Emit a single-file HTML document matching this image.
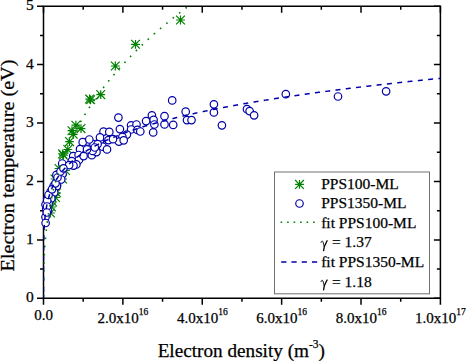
<!DOCTYPE html><html><head><meta charset="utf-8"><style>html,body{margin:0;padding:0;background:#fff;}svg{display:block;}text{font-family:"Liberation Serif",serif;fill:#000;stroke:#000;stroke-width:0.25px;}</style></head><body>
<svg width="466" height="361" viewBox="0 0 466 361">
<defs><clipPath id="pc"><rect x="43.50" y="6.20" width="396.90" height="292.10"/></clipPath></defs>
<g stroke="#000" stroke-width="1.5" fill="none">
<path d="M43.5,6.2H440.4V298.3H43.5Z"/>
<path d="M43.50,298.3v6.5M43.50,6.2v6.5M83.19,298.3v3.5M83.19,6.2v3.5M122.88,298.3v6.5M122.88,6.2v6.5M162.57,298.3v3.5M162.57,6.2v3.5M202.26,298.3v6.5M202.26,6.2v6.5M241.95,298.3v3.5M241.95,6.2v3.5M281.64,298.3v6.5M281.64,6.2v6.5M321.33,298.3v3.5M321.33,6.2v3.5M361.02,298.3v6.5M361.02,6.2v6.5M400.71,298.3v3.5M400.71,6.2v3.5M440.40,298.3v6.5M440.40,6.2v6.5M43.5,298.30h-6.5M440.4,298.30h-6.5M43.5,269.09h-3.5M440.4,269.09h-3.5M43.5,239.88h-6.5M440.4,239.88h-6.5M43.5,210.67h-3.5M440.4,210.67h-3.5M43.5,181.46h-6.5M440.4,181.46h-6.5M43.5,152.25h-3.5M440.4,152.25h-3.5M43.5,123.04h-6.5M440.4,123.04h-6.5M43.5,93.83h-3.5M440.4,93.83h-3.5M43.5,64.62h-6.5M440.4,64.62h-6.5M43.5,35.41h-3.5M440.4,35.41h-3.5M43.5,6.20h-6.5M440.4,6.20h-6.5"/>
</g>
<text x="33.7" y="302.30" font-size="15.5" text-anchor="end">0</text>
<text x="33.7" y="243.88" font-size="15.5" text-anchor="end">1</text>
<text x="33.7" y="185.46" font-size="15.5" text-anchor="end">2</text>
<text x="33.7" y="127.04" font-size="15.5" text-anchor="end">3</text>
<text x="33.7" y="68.62" font-size="15.5" text-anchor="end">4</text>
<text x="33.7" y="10.20" font-size="15.5" text-anchor="end">5</text>
<text x="43.5" y="320.3" font-size="15" text-anchor="middle">0.0</text>
<text x="122.88" y="322.5" font-size="15" text-anchor="middle">2.0x10<tspan font-size="9.5" dy="-7.8">16</tspan></text>
<text x="202.26" y="322.5" font-size="15" text-anchor="middle">4.0x10<tspan font-size="9.5" dy="-7.8">16</tspan></text>
<text x="281.64" y="322.5" font-size="15" text-anchor="middle">6.0x10<tspan font-size="9.5" dy="-7.8">16</tspan></text>
<text x="361.02" y="322.5" font-size="15" text-anchor="middle">8.0x10<tspan font-size="9.5" dy="-7.8">16</tspan></text>
<text x="440.40" y="322.5" font-size="15" text-anchor="middle">1.0x10<tspan font-size="9.5" dy="-7.8">17</tspan></text>
<text x="241.3" y="357.1" font-size="19.2" text-anchor="middle">Electron density (m<tspan font-size="11.5" dy="-9.6">-3</tspan><tspan dy="9.6">)</tspan></text>
<text transform="translate(14.0,165.5) rotate(-90) scale(1.063,1)" x="0" y="0" font-size="19" text-anchor="middle">Electron temperature (eV)</text>
<g stroke="#008000" stroke-width="1.2" fill="none"><path d="M180.50,15.60V24.40M176.10,20.00H184.90M176.10,15.60L184.90,24.40M176.10,24.40L184.90,15.60"/><path d="M135.50,39.90V48.70M131.10,44.30H139.90M131.10,39.90L139.90,48.70M131.10,48.70L139.90,39.90"/><path d="M115.30,61.60V70.40M110.90,66.00H119.70M110.90,61.60L119.70,70.40M110.90,70.40L119.70,61.60"/><path d="M100.70,90.20V99.00M96.30,94.60H105.10M96.30,90.20L105.10,99.00M96.30,99.00L105.10,90.20"/><path d="M89.60,94.60V103.40M85.20,99.00H94.00M85.20,94.60L94.00,103.40M85.20,103.40L94.00,94.60"/><path d="M90.60,95.40V104.20M86.20,99.80H95.00M86.20,95.40L95.00,104.20M86.20,104.20L95.00,95.40"/><path d="M75.90,120.80V129.60M71.50,125.20H80.30M71.50,120.80L80.30,129.60M71.50,129.60L80.30,120.80"/><path d="M81.00,124.20V133.00M76.60,128.60H85.40M76.60,124.20L85.40,133.00M76.60,133.00L85.40,124.20"/><path d="M72.00,126.30V135.10M67.60,130.70H76.40M67.60,126.30L76.40,135.10M67.60,135.10L76.40,126.30"/><path d="M73.20,129.90V138.70M68.80,134.30H77.60M68.80,129.90L77.60,138.70M68.80,138.70L77.60,129.90"/><path d="M69.50,137.20V146.00M65.10,141.60H73.90M65.10,137.20L73.90,146.00M65.10,146.00L73.90,137.20"/><path d="M67.80,145.10V153.90M63.40,149.50H72.20M63.40,145.10L72.20,153.90M63.40,153.90L72.20,145.10"/><path d="M62.60,149.50V158.30M58.20,153.90H67.00M58.20,149.50L67.00,158.30M58.20,158.30L67.00,149.50"/><path d="M63.40,150.80V159.60M59.00,155.20H67.80M59.00,150.80L67.80,159.60M59.00,159.60L67.80,150.80"/><path d="M59.00,164.10V172.90M54.60,168.50H63.40M54.60,164.10L63.40,172.90M54.60,172.90L63.40,164.10"/><path d="M55.00,174.60V183.40M50.60,179.00H59.40M50.60,174.60L59.40,183.40M50.60,183.40L59.40,174.60"/><path d="M62.50,174.60V183.40M58.10,179.00H66.90M58.10,174.60L66.90,183.40M58.10,183.40L66.90,174.60"/><path d="M65.50,166.10V174.90M61.10,170.50H69.90M61.10,166.10L69.90,174.90M61.10,174.90L69.90,166.10"/><path d="M57.00,176.60V185.40M52.60,181.00H61.40M52.60,176.60L61.40,185.40M52.60,185.40L61.40,176.60"/><path d="M56.50,188.40V197.20M52.10,192.80H60.90M52.10,188.40L60.90,197.20M52.10,197.20L60.90,188.40"/><path d="M55.50,193.10V201.90M51.10,197.50H59.90M51.10,193.10L59.90,201.90M51.10,201.90L59.90,193.10"/><path d="M51.50,202.60V211.40M47.10,207.00H55.90M47.10,202.60L55.90,211.40M47.10,211.40L55.90,202.60"/><path d="M50.50,208.60V217.40M46.10,213.00H54.90M46.10,208.60L54.90,217.40M46.10,217.40L54.90,208.60"/><path d="M52.50,197.60V206.40M48.10,202.00H56.90M48.10,197.60L56.90,206.40M48.10,206.40L56.90,197.60"/></g>
<path d="M95,99.3 Q97.5,99.2 98.6,97.2" stroke="#008000" stroke-width="1.1" fill="none"/>
<g stroke="#0000a8" stroke-width="1.2" fill="#fff"><circle cx="172.20" cy="100.40" r="3.75"/><circle cx="185.70" cy="111.70" r="3.75"/><circle cx="187.00" cy="120.10" r="3.75"/><circle cx="191.50" cy="120.10" r="3.75"/><circle cx="164.50" cy="116.20" r="3.75"/><circle cx="164.50" cy="124.40" r="3.75"/><circle cx="173.20" cy="124.90" r="3.75"/><circle cx="213.90" cy="104.30" r="3.75"/><circle cx="213.90" cy="112.40" r="3.75"/><circle cx="221.90" cy="125.30" r="3.75"/><circle cx="247.00" cy="109.20" r="3.75"/><circle cx="249.60" cy="111.10" r="3.75"/><circle cx="254.10" cy="115.30" r="3.75"/><circle cx="285.80" cy="94.20" r="3.75"/><circle cx="338.00" cy="96.50" r="3.75"/><circle cx="386.10" cy="91.30" r="3.75"/><circle cx="151.90" cy="115.30" r="3.75"/><circle cx="153.60" cy="119.90" r="3.75"/><circle cx="154.40" cy="124.50" r="3.75"/><circle cx="146.10" cy="121.10" r="3.75"/><circle cx="153.20" cy="132.40" r="3.75"/><circle cx="131.10" cy="125.30" r="3.75"/><circle cx="136.50" cy="124.50" r="3.75"/><circle cx="131.10" cy="129.50" r="3.75"/><circle cx="137.40" cy="129.90" r="3.75"/><circle cx="140.30" cy="131.50" r="3.75"/><circle cx="118.40" cy="117.60" r="3.75"/><circle cx="119.90" cy="129.10" r="3.75"/><circle cx="126.90" cy="134.60" r="3.75"/><circle cx="122.40" cy="136.80" r="3.75"/><circle cx="118.90" cy="141.60" r="3.75"/><circle cx="123.70" cy="140.30" r="3.75"/><circle cx="87.60" cy="141.60" r="3.75"/><circle cx="91.80" cy="155.20" r="3.75"/><circle cx="96.50" cy="152.10" r="3.75"/><circle cx="96.10" cy="146.30" r="3.75"/><circle cx="100.00" cy="140.90" r="3.75"/><circle cx="102.70" cy="146.70" r="3.75"/><circle cx="107.00" cy="149.40" r="3.75"/><circle cx="108.50" cy="140.10" r="3.75"/><circle cx="103.50" cy="131.60" r="3.75"/><circle cx="109.30" cy="131.90" r="3.75"/><circle cx="100.00" cy="137.40" r="3.75"/><circle cx="93.50" cy="144.00" r="3.75"/><circle cx="82.70" cy="142.20" r="3.75"/><circle cx="92.60" cy="150.90" r="3.75"/><circle cx="89.30" cy="139.50" r="3.75"/><circle cx="97.60" cy="144.10" r="3.75"/><circle cx="94.80" cy="147.50" r="3.75"/><circle cx="113.00" cy="139.20" r="3.75"/><circle cx="62.20" cy="163.50" r="3.75"/><circle cx="56.40" cy="174.90" r="3.75"/><circle cx="62.60" cy="174.10" r="3.75"/><circle cx="58.00" cy="180.70" r="3.75"/><circle cx="61.20" cy="179.50" r="3.75"/><circle cx="53.50" cy="186.40" r="3.75"/><circle cx="57.00" cy="186.00" r="3.75"/><circle cx="50.40" cy="192.20" r="3.75"/><circle cx="54.20" cy="192.40" r="3.75"/><circle cx="47.80" cy="198.40" r="3.75"/><circle cx="51.30" cy="198.40" r="3.75"/><circle cx="45.50" cy="204.60" r="3.75"/><circle cx="48.60" cy="203.70" r="3.75"/><circle cx="46.20" cy="209.00" r="3.75"/><circle cx="48.00" cy="211.00" r="3.75"/><circle cx="45.50" cy="217.00" r="3.75"/><circle cx="45.60" cy="223.00" r="3.75"/><circle cx="47.20" cy="200.50" r="3.75"/><circle cx="48.50" cy="195.00" r="3.75"/><circle cx="52.00" cy="189.30" r="3.75"/><circle cx="55.50" cy="183.30" r="3.75"/><circle cx="57.50" cy="177.50" r="3.75"/><circle cx="60.50" cy="171.50" r="3.75"/><circle cx="47.00" cy="206.50" r="3.75"/><circle cx="46.80" cy="212.50" r="3.75"/><circle cx="80.00" cy="149.20" r="3.75"/><circle cx="87.00" cy="149.50" r="3.75"/><circle cx="73.20" cy="156.10" r="3.75"/><circle cx="78.60" cy="155.00" r="3.75"/><circle cx="78.90" cy="160.00" r="3.75"/><circle cx="71.70" cy="161.10" r="3.75"/><circle cx="76.40" cy="164.40" r="3.75"/><circle cx="73.50" cy="165.60" r="3.75"/><circle cx="69.20" cy="165.10" r="3.75"/><circle cx="83.60" cy="156.10" r="3.75"/><circle cx="63.40" cy="168.30" r="3.75"/></g>
<g clip-path="url(#pc)">
<path d="M43.50,298.22 L43.50,297.58 L43.50,296.76 L43.50,295.96 L43.50,295.15 L43.50,294.34 L43.50,293.54 L43.50,292.72 L43.50,291.89 L43.51,291.09 L43.51,290.26 L43.51,289.43 L43.51,288.62 L43.52,287.82 L43.52,286.99 L43.53,286.19 L43.53,285.37 L43.54,284.54 L43.54,283.72 L43.55,282.89 L43.56,282.09 L43.57,281.28 L43.58,280.46 L43.59,279.62 L43.60,278.81 L43.61,278.00 L43.62,277.17 L43.63,276.33 L43.65,275.53 L43.66,274.72 L43.68,273.90 L43.69,273.07 L43.71,272.23 L43.73,271.39 L43.75,270.58 L43.77,269.77 L43.79,268.95 L43.81,268.12 L43.84,267.29 L43.86,266.45 L43.89,265.60 L43.92,264.79 L43.94,263.99 L43.97,263.17 L44.00,262.35 L44.04,261.52 L44.07,260.69 L44.10,259.85 L44.14,259.00 L44.18,258.15 L44.22,257.35 L44.25,256.55 L44.29,255.73 L44.34,254.92 L44.38,254.10 L44.43,253.27 L44.47,252.44 L44.52,251.61 L44.57,250.77 L44.62,249.92 L44.68,249.07 L44.73,248.22 L44.79,247.36 L44.85,246.56 L44.90,245.75 L44.96,244.94 L45.03,244.13 L45.09,243.31 L45.15,242.49 L45.22,241.66 L45.29,240.83 L45.36,240.00 L45.43,239.16 L45.51,238.32 L45.59,237.47 L45.67,236.62 L45.75,235.77 L45.83,234.91 L45.92,234.05 L46.00,233.25 L46.09,232.45 L46.17,231.65 L46.26,230.84 L46.35,230.03 L46.44,229.22 L46.54,228.40 L46.64,227.58 L46.73,226.76 L46.84,225.93 L46.94,225.10 L47.05,224.27 L47.16,223.43 L47.27,222.60 L47.38,221.75 L47.50,220.91 L47.62,220.06 L47.74,219.21 L47.87,218.36 L47.99,217.50 L48.12,216.64 L48.26,215.78 L48.38,214.99 L48.51,214.19 L48.64,213.40 L48.77,212.60 L48.90,211.79 L49.04,210.99 L49.18,210.18 L49.32,209.37 L49.47,208.56 L49.62,207.74 L49.77,206.93 L49.92,206.11 L50.08,205.29 L50.23,204.46 L50.40,203.64 L50.56,202.81 L50.73,201.98 L50.90,201.14 L51.07,200.31 L51.25,199.47 L51.43,198.63 L51.61,197.78 L51.79,196.94 L51.98,196.09 L52.18,195.24 L52.37,194.39 L52.57,193.54 L52.77,192.68 L52.96,191.90 L53.15,191.12 L53.34,190.33 L53.53,189.55 L53.73,188.76 L53.93,187.97 L54.13,187.18 L54.34,186.38 L54.55,185.59 L54.76,184.79 L54.98,183.99 L55.20,183.19 L55.42,182.39 L55.64,181.58 L55.87,180.78 L56.10,179.97 L56.34,179.16 L56.58,178.35 L56.82,177.53 L57.06,176.72 L57.31,175.90 L57.56,175.08 L57.81,174.26 L58.07,173.44 L58.33,172.62 L58.60,171.79 L58.87,170.96 L59.14,170.13 L59.41,169.30 L59.69,168.47 L59.98,167.64 L60.26,166.80 L60.55,165.96 L60.82,165.21 L61.08,164.45 L61.36,163.69 L61.63,162.93 L61.91,162.17 L62.19,161.41 L62.47,160.64 L62.76,159.88 L63.04,159.11 L63.34,158.34 L63.63,157.57 L63.93,156.80 L64.24,156.03 L64.54,155.26 L64.85,154.48 L65.16,153.71 L65.48,152.93 L65.80,152.15 L66.12,151.37 L66.45,150.59 L66.78,149.81 L67.11,149.02 L67.45,148.24 L67.79,147.45 L68.14,146.66 L68.49,145.87 L68.84,145.08 L69.19,144.29 L69.55,143.49 L69.92,142.70 L70.28,141.90 L70.65,141.10 L71.03,140.31 L71.41,139.51 L71.79,138.70 L72.18,137.90 L72.57,137.10 L72.96,136.29 L73.36,135.48 L73.72,134.77 L74.08,134.05 L74.44,133.33 L74.81,132.61 L75.18,131.88 L75.55,131.16 L75.93,130.44 L76.31,129.71 L76.69,128.98 L77.08,128.26 L77.47,127.53 L77.86,126.80 L78.26,126.07 L78.66,125.34 L79.06,124.60 L79.47,123.87 L79.88,123.14 L80.29,122.40 L80.71,121.66 L81.13,120.93 L81.56,120.19 L81.99,119.45 L82.42,118.71 L82.86,117.97 L83.29,117.23 L83.74,116.48 L84.18,115.74 L84.64,114.99 L85.09,114.25 L85.55,113.50 L86.01,112.75 L86.47,112.00 L86.94,111.25 L87.42,110.50 L87.89,109.75 L88.38,108.99 L88.86,108.24 L89.35,107.49 L89.84,106.73 L90.34,105.97 L90.84,105.21 L91.34,104.46 L91.85,103.70 L92.30,103.03 L92.75,102.36 L93.21,101.70 L93.66,101.03 L94.12,100.36 L94.59,99.69 L95.06,99.02 L95.53,98.35 L96.00,97.68 L96.48,97.00 L96.96,96.33 L97.44,95.66 L97.93,94.98 L98.42,94.31 L98.91,93.63 L99.41,92.96 L99.91,92.28 L100.41,91.60 L100.92,90.92 L101.43,90.24 L101.94,89.56 L102.46,88.88 L102.98,88.20 L103.50,87.52 L104.03,86.83 L104.56,86.15 L105.09,85.46 L105.63,84.78 L106.17,84.09 L106.72,83.41 L107.26,82.72 L107.82,82.03 L108.37,81.34 L108.93,80.65 L109.49,79.96 L110.06,79.27 L110.63,78.58 L111.20,77.89 L111.78,77.19 L112.36,76.50 L112.94,75.80 L113.53,75.11 L114.12,74.41 L114.72,73.72 L115.32,73.02 L115.92,72.32 L116.53,71.62 L117.14,70.92 L117.75,70.22 L118.28,69.62 L118.81,69.02 L119.35,68.42 L119.89,67.82 L120.43,67.21 L120.97,66.61 L121.52,66.01 L122.07,65.40 L122.62,64.80 L123.18,64.19 L123.74,63.59 L124.30,62.98 L124.86,62.37 L125.43,61.77 L126.00,61.16 L126.57,60.55 L127.15,59.94 L127.73,59.33 L128.31,58.72 L128.90,58.11 L129.48,57.50 L130.08,56.89 L130.67,56.28 L131.27,55.66 L131.87,55.05 L132.47,54.44 L133.08,53.82 L133.69,53.21 L134.30,52.60 L134.92,51.98 L135.54,51.36 L136.16,50.75 L136.78,50.13 L137.41,49.51 L138.04,48.90 L138.68,48.28 L139.32,47.66 L139.96,47.04 L140.60,46.42 L141.25,45.80 L141.90,45.18 L142.55,44.56 L143.21,43.94 L143.87,43.31 L144.54,42.69 L145.20,42.07 L145.87,41.44 L146.55,40.82 L147.23,40.19 L147.91,39.57 L148.59,38.94 L149.28,38.32 L149.97,37.69 L150.66,37.06 L151.36,36.43 L152.06,35.81 L152.76,35.18 L153.47,34.55 L154.18,33.92 L154.90,33.29 L155.62,32.66 L156.34,32.03 L156.94,31.50 L157.55,30.97 L158.16,30.45 L158.77,29.92 L159.38,29.39 L160.00,28.86 L160.61,28.34 L161.24,27.81 L161.86,27.28 L162.48,26.75 L163.11,26.22 L163.74,25.69 L164.38,25.16 L165.01,24.63 L165.65,24.10 L166.29,23.57 L166.93,23.03 L167.58,22.50 L168.23,21.97 L168.88,21.44 L169.53,20.90 L170.19,20.37 L170.85,19.84 L171.51,19.30 L172.17,18.77 L172.84,18.23 L173.51,17.70 L174.18,17.16 L174.85,16.63 L175.53,16.09 L176.21,15.56 L176.89,15.02 L177.58,14.48 L178.26,13.94 L178.95,13.41 L179.64,12.87 L180.34,12.33 L181.04,11.79 L181.74,11.25 L182.44,10.71 L183.15,10.17 L183.86,9.63 L184.57,9.09 L185.28,8.55 L186.00,8.01 L186.72,7.47 L187.44,6.93 L188.16,6.39 L188.89,5.85 L189.62,5.30 L190.35,4.76" stroke="#008000" stroke-width="1.6" fill="none" stroke-dasharray="1.6 6.61" stroke-dashoffset="6.498"/>
<path d="M43.50,294.81 L43.50,297.74 L43.50,296.78 L43.50,295.79 L43.50,294.94 L43.50,293.99 L43.50,293.11 L43.50,292.28 L43.50,291.35 L43.50,290.46 L43.50,289.61 L43.50,288.79 L43.50,287.86 L43.50,286.97 L43.50,286.10 L43.50,285.26 L43.50,284.44 L43.50,283.64 L43.50,282.74 L43.50,281.86 L43.50,281.00 L43.50,280.16 L43.50,279.33 L43.50,278.51 L43.50,277.71 L43.50,276.82 L43.50,275.95 L43.50,275.09 L43.50,274.24 L43.50,273.40 L43.50,272.58 L43.50,271.76 L43.50,270.96 L43.50,270.07 L43.51,269.20 L43.51,268.33 L43.51,267.48 L43.51,266.63 L43.51,265.79 L43.51,264.96 L43.51,264.14 L43.51,263.33 L43.52,262.52 L43.52,261.65 L43.52,260.77 L43.52,259.91 L43.53,259.06 L43.53,258.21 L43.53,257.37 L43.54,256.53 L43.54,255.71 L43.55,254.88 L43.55,254.07 L43.56,253.26 L43.57,252.45 L43.57,251.58 L43.58,250.72 L43.59,249.86 L43.60,249.01 L43.61,248.16 L43.62,247.32 L43.63,246.48 L43.64,245.65 L43.65,244.82 L43.67,244.00 L43.68,243.19 L43.70,242.37 L43.71,241.57 L43.73,240.76 L43.75,239.90 L43.77,239.04 L43.79,238.18 L43.82,237.33 L43.84,236.49 L43.87,235.65 L43.90,234.81 L43.93,233.98 L43.96,233.15 L43.99,232.33 L44.03,231.51 L44.07,230.69 L44.10,229.88 L44.14,229.07 L44.19,228.26 L44.23,227.46 L44.28,226.60 L44.34,225.75 L44.39,224.90 L44.45,224.05 L44.51,223.20 L44.58,222.36 L44.64,221.53 L44.72,220.69 L44.79,219.86 L44.87,219.04 L44.95,218.22 L45.03,217.40 L45.12,216.58 L45.21,215.77 L45.31,214.96 L45.41,214.15 L45.51,213.34 L45.62,212.54 L45.73,211.75 L45.85,210.95 L45.97,210.16 L46.10,209.31 L46.24,208.47 L46.39,207.63 L46.54,206.79 L46.69,205.96 L46.86,205.13 L47.03,204.30 L47.20,203.47 L47.38,202.65 L47.57,201.83 L47.77,201.01 L47.97,200.20 L48.18,199.39 L48.40,198.58 L48.62,197.77 L48.85,196.97 L49.09,196.17 L49.34,195.37 L49.59,194.57 L49.86,193.78 L50.13,192.98 L50.41,192.19 L50.70,191.41 L51.00,190.62 L51.31,189.84 L51.62,189.06 L51.95,188.28 L52.29,187.50 L52.64,186.73 L52.99,185.95 L53.36,185.18 L53.74,184.42 L54.10,183.70 L54.47,182.99 L54.85,182.28 L55.24,181.57 L55.65,180.86 L56.06,180.15 L56.48,179.44 L56.91,178.74 L57.36,178.04 L57.81,177.34 L58.28,176.64 L58.75,175.94 L59.24,175.25 L59.74,174.55 L60.25,173.86 L60.74,173.22 L61.23,172.58 L61.74,171.94 L62.26,171.30 L62.79,170.66 L63.32,170.03 L63.88,169.39 L64.44,168.76 L65.01,168.13 L65.60,167.50 L66.15,166.92 L66.71,166.34 L67.28,165.76 L67.86,165.18 L68.46,164.60 L69.06,164.03 L69.67,163.45 L70.30,162.88 L70.93,162.30 L71.58,161.73 L72.24,161.16 L72.86,160.64 L73.48,160.11 L74.11,159.59 L74.76,159.07 L75.41,158.55 L76.08,158.03 L76.75,157.51 L77.44,157.00 L78.13,156.48 L78.84,155.96 L79.49,155.49 L80.15,155.03 L80.82,154.56 L81.50,154.09 L82.19,153.63 L82.88,153.16 L83.59,152.69 L84.31,152.23 L85.03,151.77 L85.77,151.30 L86.51,150.84 L87.26,150.38 L87.95,149.96 L88.65,149.55 L89.35,149.13 L90.06,148.72 L90.78,148.30 L91.51,147.89 L92.25,147.48 L92.99,147.07 L93.75,146.65 L94.51,146.24 L95.28,145.83 L96.06,145.42 L96.85,145.01 L97.65,144.60 L98.36,144.24 L99.09,143.87 L99.82,143.51 L100.56,143.15 L101.30,142.78 L102.05,142.42 L102.81,142.06 L103.58,141.70 L104.35,141.33 L105.14,140.97 L105.92,140.61 L106.72,140.25 L107.53,139.89 L108.34,139.53 L109.16,139.17 L109.98,138.81 L110.82,138.46 L111.56,138.14 L112.30,137.83 L113.05,137.51 L113.81,137.20 L114.57,136.89 L115.34,136.58 L116.11,136.26 L116.89,135.95 L117.68,135.64 L118.47,135.33 L119.27,135.02 L120.07,134.71 L120.89,134.40 L121.70,134.08 L122.53,133.77 L123.36,133.46 L124.20,133.15 L125.04,132.84 L125.89,132.53 L126.75,132.23 L127.62,131.92 L128.49,131.61 L129.37,131.30 L130.12,131.03 L130.89,130.77 L131.65,130.51 L132.43,130.24 L133.21,129.98 L133.99,129.72 L134.78,129.45 L135.57,129.19 L136.37,128.93 L137.17,128.66 L137.98,128.40 L138.80,128.14 L139.62,127.87 L140.44,127.61 L141.27,127.35 L142.11,127.09 L142.95,126.83 L143.79,126.56 L144.64,126.30 L145.50,126.04 L146.36,125.78 L147.23,125.52 L148.10,125.26 L148.98,125.00 L149.87,124.74 L150.76,124.48 L151.65,124.22 L152.55,123.96 L153.46,123.70 L154.37,123.44 L155.29,123.18 L156.21,122.92 L156.99,122.70 L157.76,122.48 L158.55,122.27 L159.33,122.05 L160.12,121.84 L160.92,121.62 L161.71,121.41 L162.52,121.19 L163.32,120.98 L164.13,120.76 L164.95,120.54 L165.77,120.33 L166.59,120.11 L167.42,119.90 L168.25,119.69 L169.08,119.47 L169.92,119.26 L170.76,119.04 L171.61,118.83 L172.46,118.61 L173.32,118.40 L174.18,118.18 L175.05,117.97 L175.91,117.76 L176.79,117.54 L177.67,117.33 L178.55,117.12 L179.43,116.90 L180.32,116.69 L181.22,116.48 L182.12,116.26 L183.02,116.05 L183.93,115.84 L184.84,115.62 L185.76,115.41 L186.68,115.20 L187.61,114.99 L188.54,114.77 L189.47,114.56 L190.41,114.35 L191.36,114.14 L192.31,113.92 L193.26,113.71 L194.22,113.50 L195.18,113.29 L196.15,113.08 L197.12,112.87 L198.09,112.65 L198.88,112.48 L199.66,112.32 L200.45,112.15 L201.25,111.98 L202.04,111.81 L202.84,111.64 L203.65,111.47 L204.45,111.30 L205.26,111.13 L206.07,110.96 L206.88,110.80 L207.70,110.63 L208.52,110.46 L209.35,110.29 L210.17,110.12 L211.00,109.95 L211.84,109.79 L212.67,109.62 L213.51,109.45 L214.35,109.28 L215.20,109.11 L216.05,108.95 L216.90,108.78 L217.75,108.61 L218.61,108.44 L219.47,108.27 L220.34,108.11 L221.20,107.94 L222.07,107.77 L222.95,107.60 L223.82,107.44 L224.70,107.27 L225.59,107.10 L226.47,106.94 L227.36,106.77 L228.26,106.60 L229.15,106.43 L230.05,106.27 L230.96,106.10 L231.86,105.93 L232.77,105.77 L233.68,105.60 L234.60,105.43 L235.52,105.27 L236.44,105.10 L237.37,104.93 L238.30,104.77 L239.23,104.60 L240.17,104.43 L241.11,104.27 L242.05,104.10 L242.99,103.93 L243.94,103.77 L244.90,103.60 L245.85,103.44 L246.81,103.27 L247.77,103.10 L248.74,102.94 L249.71,102.77 L250.68,102.61 L251.66,102.44 L252.64,102.28 L253.62,102.11 L254.61,101.94 L255.60,101.78 L256.60,101.61 L257.59,101.45 L258.59,101.28 L259.60,101.12 L260.61,100.95 L261.62,100.79 L262.63,100.62 L263.65,100.46 L264.68,100.29 L265.70,100.13 L266.73,99.96 L267.76,99.80 L268.80,99.63 L269.84,99.47 L270.88,99.30 L271.93,99.14 L272.98,98.97 L273.77,98.85 L274.56,98.73 L275.36,98.60 L276.16,98.48 L276.95,98.36 L277.75,98.23 L278.56,98.11 L279.36,97.99 L280.17,97.86 L280.98,97.74 L281.79,97.62 L282.60,97.49 L283.42,97.37 L284.24,97.25 L285.05,97.12 L285.88,97.00 L286.70,96.88 L287.53,96.76 L288.35,96.63 L289.18,96.51 L290.02,96.39 L290.85,96.26 L291.69,96.14 L292.52,96.02 L293.36,95.90 L294.21,95.77 L295.05,95.65 L295.90,95.53 L296.75,95.41 L297.60,95.28 L298.45,95.16 L299.31,95.04 L300.16,94.92 L301.02,94.79 L301.89,94.67 L302.75,94.55 L303.62,94.43 L304.49,94.30 L305.36,94.18 L306.23,94.06 L307.10,93.94 L307.98,93.81 L308.86,93.69 L309.74,93.57 L310.62,93.45 L311.51,93.33 L312.40,93.20 L313.29,93.08 L314.18,92.96 L315.08,92.84 L315.97,92.72 L316.87,92.59 L317.77,92.47 L318.68,92.35 L319.58,92.23 L320.49,92.11 L321.40,91.98 L322.31,91.86 L323.23,91.74 L324.15,91.62 L325.07,91.50 L325.99,91.38 L326.91,91.25 L327.84,91.13 L328.76,91.01 L329.70,90.89 L330.63,90.77 L331.56,90.65 L332.50,90.52 L333.44,90.40 L334.38,90.28 L335.33,90.16 L336.27,90.04 L337.22,89.92 L338.17,89.80 L339.13,89.68 L340.08,89.55 L341.04,89.43 L342.00,89.31 L342.96,89.19 L343.93,89.07 L344.90,88.95 L345.87,88.83 L346.84,88.71 L347.81,88.58 L348.79,88.46 L349.77,88.34 L350.75,88.22 L351.73,88.10 L352.72,87.98 L353.71,87.86 L354.70,87.74 L355.69,87.62 L356.69,87.50 L357.69,87.38 L358.69,87.26 L359.69,87.13 L360.70,87.01 L361.70,86.89 L362.71,86.77 L363.73,86.65 L364.74,86.53 L365.76,86.41 L366.78,86.29 L367.80,86.17 L368.82,86.05 L369.85,85.93 L370.88,85.81 L371.91,85.69 L372.95,85.57 L373.98,85.45 L375.02,85.33 L376.06,85.21 L377.11,85.09 L378.15,84.97 L379.20,84.85 L380.25,84.73 L381.31,84.61 L382.36,84.49 L383.42,84.37 L384.48,84.25 L385.55,84.13 L386.61,84.01 L387.68,83.89 L388.75,83.77 L389.83,83.65 L390.90,83.53 L391.98,83.41 L393.07,83.29 L394.15,83.17 L395.24,83.05 L396.32,82.93 L397.42,82.81 L398.51,82.69 L399.61,82.57 L400.70,82.45 L401.81,82.33 L402.91,82.21 L404.02,82.09 L405.13,81.97 L406.24,81.85 L407.35,81.73 L408.47,81.61 L409.59,81.49 L410.71,81.37 L411.83,81.25 L412.96,81.13 L414.09,81.01 L415.22,80.89 L416.36,80.77 L417.50,80.66 L418.64,80.54 L419.78,80.42 L420.92,80.30 L422.07,80.18 L423.22,80.06 L424.38,79.94 L425.53,79.82 L426.69,79.70 L427.85,79.58 L429.01,79.46 L430.18,79.34 L431.35,79.23 L432.52,79.11 L433.70,78.99 L434.87,78.87 L436.05,78.75 L437.23,78.63 L438.42,78.51 L439.61,78.39 L440.40,78.31" stroke="#0000a8" stroke-width="1.5" fill="none" stroke-dasharray="5.0 5.355" stroke-dashoffset="1.655"/>
</g>
<rect x="274.5" y="172" width="155" height="121.8" fill="#fff" stroke="#707070" stroke-width="1"/>
<g stroke="#008000" stroke-width="1.2" fill="none"><path d="M299.50,180.00V188.80M295.10,184.40H303.90M295.10,180.00L303.90,188.80M295.10,188.80L303.90,180.00"/></g>
<circle cx="299.5" cy="203.5" r="3.75" stroke="#0000a8" stroke-width="1.2" fill="#fff"/>
<path d="M280.6,222.3H314.7" stroke="#008000" stroke-width="1.6" stroke-dasharray="1.6 4.9"/>
<path d="M281.2,262H317.5" stroke="#0000a8" stroke-width="1.5" stroke-dasharray="5.2 5.05"/>
<g transform="translate(321.0,247.40)" fill="none" stroke="#000" stroke-linecap="round"><path d="M0,-5 C0.3,-6.3 1.2,-6.8 1.9,-5.8 L3.3,-0.8" stroke-width="0.9"/><path d="M6.1,-6.6 L3.3,-0.8 L2.6,3.2" stroke-width="1.3"/></g>
<g transform="translate(321.0,286.60)" fill="none" stroke="#000" stroke-linecap="round"><path d="M0,-5 C0.3,-6.3 1.2,-6.8 1.9,-5.8 L3.3,-0.8" stroke-width="0.9"/><path d="M6.1,-6.6 L3.3,-0.8 L2.6,3.2" stroke-width="1.3"/></g>
<text x="321.2" y="188.60" font-size="15.5">PPS100-ML</text>
<text x="321.2" y="208.20" font-size="15.5">PPS1350-ML</text>
<text x="321.2" y="227.80" font-size="15.5">fit PPS100-ML</text>
<text x="321.2" y="247.40" font-size="15.5"><tspan fill="none" stroke="none" style="stroke:none">&#947;</tspan> = 1.37</text>
<text x="321.2" y="267.00" font-size="15.5">fit PPS1350-ML</text>
<text x="321.2" y="286.60" font-size="15.5"><tspan fill="none" stroke="none" style="stroke:none">&#947;</tspan> = 1.18</text>
</svg></body></html>
